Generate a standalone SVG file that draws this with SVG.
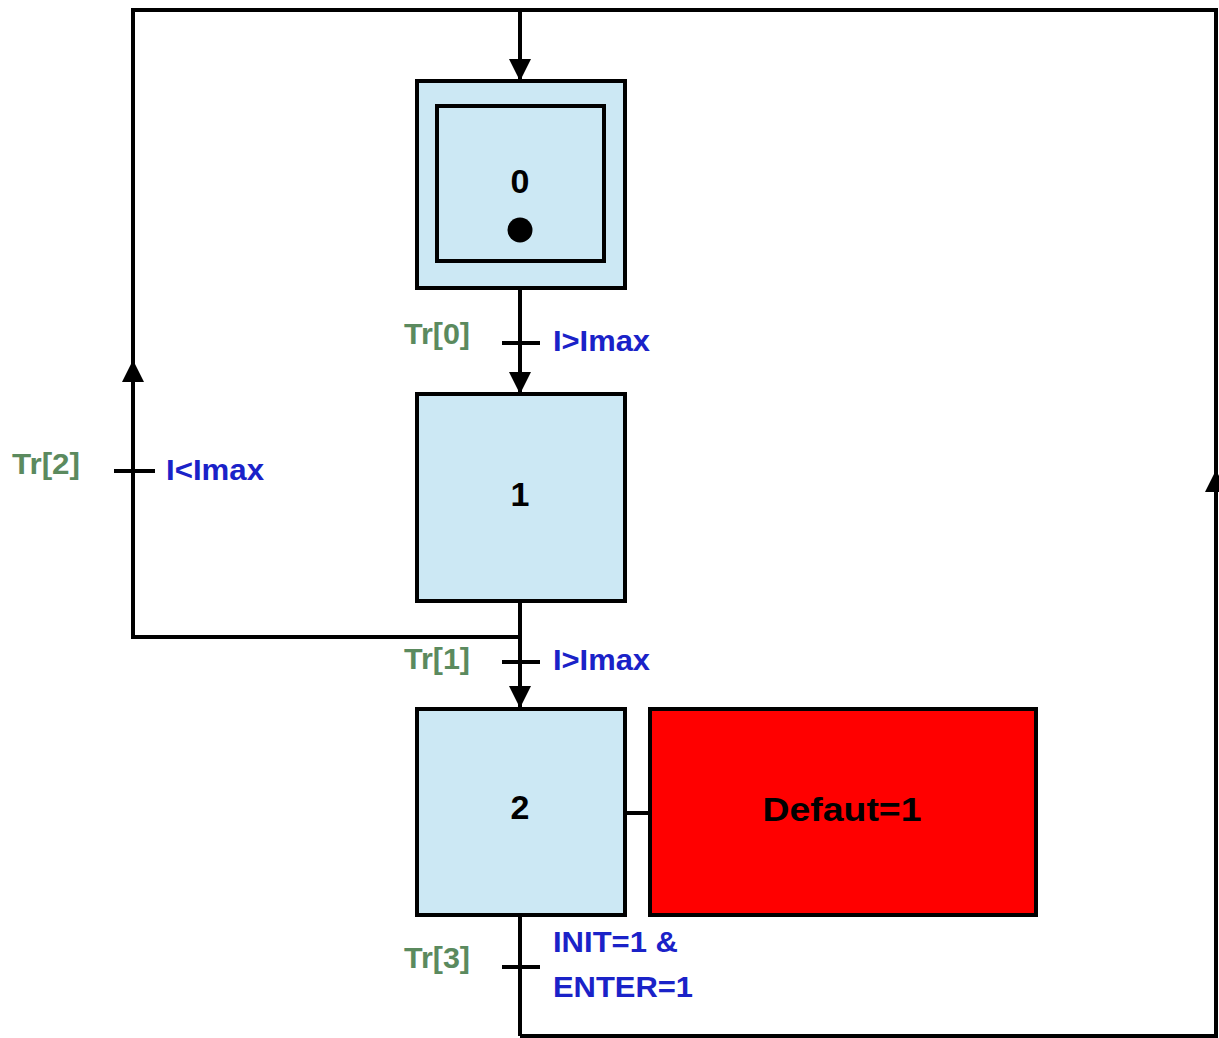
<svg xmlns="http://www.w3.org/2000/svg" width="1219" height="1038" viewBox="0 0 1219 1038">
<defs>
<style>
.step{fill:#cce8f4;stroke:#000;stroke-width:4}
.ln{fill:none;stroke:#000;stroke-width:4}
.num{font-family:"Liberation Sans",Arial,sans-serif;font-weight:bold;font-size:34px;fill:#000;text-anchor:middle}
.tr{font-family:"Liberation Sans",Arial,sans-serif;font-weight:bold;font-size:30px;fill:#5b8a5e}
.cond{font-family:"Liberation Sans",Arial,sans-serif;font-weight:bold;font-size:30px;fill:#1a22c8}
</style>
<marker id="ah" viewBox="0 0 10 10" refX="10" refY="5" markerWidth="5.5" markerHeight="5.5" markerUnits="strokeWidth" orient="auto">
<path d="M0,0 L10,5 L0,10 z" fill="#000"/>
</marker>
</defs>
<rect width="1219" height="1038" fill="#fff"/>
<g id="connectors">
<polyline class="ln" points="520,1036 1216,1036 1216,10 133,10 133,637 520,637"/>
<line class="ln" x1="520" y1="10" x2="520" y2="81" marker-end="url(#ah)"/>
<line class="ln" x1="520" y1="288" x2="520" y2="394" marker-end="url(#ah)"/>
<line class="ln" x1="520" y1="601" x2="520" y2="708" marker-end="url(#ah)"/>
<line class="ln" x1="520" y1="915" x2="520" y2="1036"/>
<line class="ln" x1="133" y1="480" x2="133" y2="360" marker-end="url(#ah)"/>
<line class="ln" x1="1216" y1="520" x2="1216" y2="470" marker-end="url(#ah)"/>
<line class="ln" x1="625" y1="813" x2="650" y2="813"/>
<line class="ln" x1="502" y1="343" x2="540" y2="343"/>
<line class="ln" x1="502" y1="662" x2="540" y2="662"/>
<line class="ln" x1="502" y1="967" x2="540" y2="967"/>
<line class="ln" x1="114" y1="471" x2="155" y2="471"/>
<text class="tr" x="404" y="344" textLength="66" lengthAdjust="spacingAndGlyphs">Tr[0]</text>
<text class="cond" x="553" y="351" textLength="97" lengthAdjust="spacingAndGlyphs">I&gt;Imax</text>
<text class="tr" x="404" y="669" textLength="66" lengthAdjust="spacingAndGlyphs">Tr[1]</text>
<text class="cond" x="553" y="670" textLength="97" lengthAdjust="spacingAndGlyphs">I&gt;Imax</text>
<text class="tr" x="12" y="474" textLength="68" lengthAdjust="spacingAndGlyphs">Tr[2]</text>
<text class="cond" x="166" y="480" textLength="98" lengthAdjust="spacingAndGlyphs">I&lt;Imax</text>
<text class="tr" x="404" y="968" textLength="66" lengthAdjust="spacingAndGlyphs">Tr[3]</text>
<text class="cond" x="553" y="952" textLength="125" lengthAdjust="spacingAndGlyphs">INIT=1 &amp;</text>
<text class="cond" x="553" y="997" textLength="140" lengthAdjust="spacingAndGlyphs">ENTER=1</text>
</g>
<g id="step0">
<rect class="step" x="417" y="81" width="208" height="207"/>
<rect class="step" x="437" y="106" width="167" height="155"/>
<text class="num" x="520" y="193">0</text>
<circle cx="520" cy="230" r="12.5" fill="#000"/>
</g>
<g id="step1">
<rect class="step" x="417" y="394" width="208" height="207"/>
<text class="num" x="520" y="506">1</text>
</g>
<g id="step2">
<rect class="step" x="417" y="709" width="208" height="206"/>
<text class="num" x="520" y="819">2</text>
</g>
<g id="action2">
<rect x="650" y="709" width="386" height="206" fill="#ff0000" stroke="#000" stroke-width="4"/>
<text class="num" x="842" y="821" textLength="159" lengthAdjust="spacingAndGlyphs">Defaut=1</text>
</g>
</svg>
